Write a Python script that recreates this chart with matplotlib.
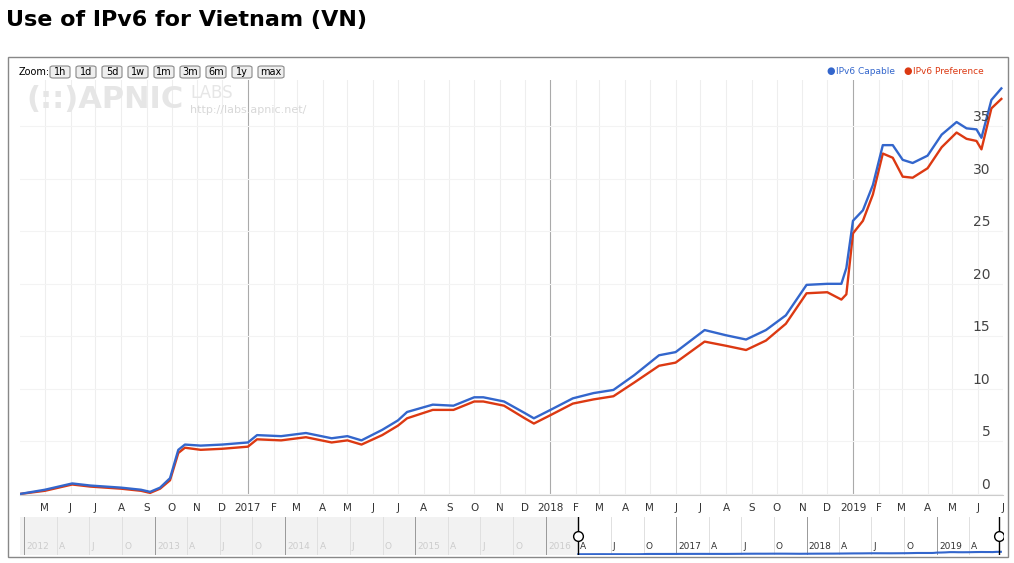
import matplotlib.pyplot as plt
import matplotlib.dates as mdates
import numpy as np
import pandas as pd
from matplotlib.patches import Rectangle, FancyBboxPatch

dates = pd.to_datetime([
    "2016-04-01", "2016-05-01", "2016-06-03", "2016-06-25", "2016-08-01", "2016-08-25",
    "2016-09-05", "2016-09-17", "2016-09-29", "2016-10-09", "2016-10-17", "2016-11-05",
    "2016-12-01", "2017-01-01", "2017-01-12", "2017-02-10", "2017-03-12", "2017-04-12",
    "2017-05-01", "2017-05-18", "2017-06-12", "2017-07-01", "2017-07-12", "2017-08-12",
    "2017-09-06", "2017-10-01", "2017-10-12", "2017-11-06", "2017-12-01", "2017-12-12",
    "2018-01-01", "2018-01-28", "2018-02-22", "2018-03-18", "2018-04-12", "2018-05-12",
    "2018-06-01", "2018-07-06", "2018-08-01", "2018-08-25", "2018-09-18", "2018-10-12",
    "2018-11-06", "2018-12-01", "2018-12-18", "2018-12-24", "2019-01-01", "2019-01-13",
    "2019-01-25", "2019-02-06", "2019-02-18", "2019-03-02", "2019-03-14", "2019-04-01",
    "2019-04-18", "2019-05-06", "2019-05-18", "2019-05-30", "2019-06-05", "2019-06-17",
    "2019-06-29"])
capable = [0.0, 0.4, 1.0, 0.8, 0.6, 0.4, 0.2, 0.6, 1.5, 4.2, 4.7, 4.6,
           4.7, 4.9, 5.6, 5.5, 5.8, 5.3, 5.5, 5.1, 6.1, 7.0, 7.8, 8.5,
           8.4, 9.2, 9.2, 8.8, 7.7, 7.2, 8.0, 9.1, 9.6, 9.9, 11.3, 13.2,
           13.5, 15.6, 15.1, 14.7, 15.6, 17.0, 19.9, 20.0, 20.0, 21.5, 26.0, 27.0,
           29.4, 33.2, 33.2, 31.8, 31.5, 32.2, 34.2, 35.4, 34.8, 34.7, 33.9, 37.5,
           38.6]
preference = [0.0, 0.3, 0.9, 0.7, 0.5, 0.3, 0.1, 0.5, 1.3, 3.9, 4.4, 4.2,
              4.3, 4.5, 5.2, 5.1, 5.4, 4.9, 5.1, 4.7, 5.6, 6.5, 7.2, 8.0,
              8.0, 8.8, 8.8, 8.4, 7.2, 6.7, 7.5, 8.6, 9.0, 9.3, 10.6, 12.2,
              12.5, 14.5, 14.1, 13.7, 14.6, 16.2, 19.1, 19.2, 18.5, 19.0, 24.8, 26.0,
              28.5, 32.4, 32.0, 30.2, 30.1, 31.0, 33.0, 34.4, 33.8, 33.6, 32.8, 36.7,
              37.6]
yticks = [0, 5, 10, 15, 20, 25, 30, 35]
zoom_buttons = ["1h", "1d", "5d", "1w", "1m", "3m", "6m", "1y", "max"]
BLUE = "#3366cc"
RED = "#dc3912"

fig = plt.figure(figsize=(10.14, 5.63), dpi=100)
W, H = 1014, 563

def fx(px): return px / W
def fy(py): return 1 - py / H

fig.text(fx(6), fy(20), "Use of IPv6 for Vietnam (VN)", fontsize=16, fontweight="bold",
         va="center", ha="left")
fig.patches.append(Rectangle((fx(8), fy(557)), fx(1000), (557 - 57) / H, transform=fig.transFigure,
                             fill=False, edgecolor="#888888", lw=1))

# main chart
ax = fig.add_axes([fx(20), fy(495), fx(983), (495 - 80) / H])
ax.plot(dates, preference, color=RED, lw=1.7)
ax.plot(dates, capable, color=BLUE, lw=1.7)
ax.set_xlim(pd.Timestamp("2016-04-01"), pd.Timestamp("2019-07-01"))
ax.set_ylim(-0.1, 39.4)
months = pd.date_range("2016-05-01", "2019-07-01", freq="MS")
for m in months:
    ax.axvline(m, color="#aaaaaa" if m.month == 1 else "#eeeeee", lw=0.8, zorder=0)
for t in yticks:
    ax.axhline(t, color="#f3f3f3", lw=0.8, zorder=0)
    ax.text(0.987, t + 0.2, str(t), transform=ax.get_yaxis_transform(), ha="right",
            va="bottom", fontsize=10, color="#444444")
ax.set_xticks(months)
ax.set_xticklabels([str(m.year) if m.month == 1 else m.strftime("%B")[0] for m in months],
                   fontsize=7.5, color="#333333")
ax.tick_params(axis="x", length=0, pad=6)
ax.set_yticks([])
for s in ["top", "left", "right"]:
    ax.spines[s].set_visible(False)
ax.spines["bottom"].set_color("#cccccc")

# watermark
fig.text(fx(26), fy(100), "(::)APNIC", fontsize=22, fontweight="bold", color="#e6e6e6", va="center")
fig.text(fx(190), fy(93), "LABS", fontsize=12, color="#e6e6e6", va="center")
fig.text(fx(190), fy(110), "http://labs.apnic.net/", fontsize=8, color="#d8d8d8", va="center")

# zoom buttons
fig.text(fx(19), fy(72), "Zoom:", fontsize=7, va="center")
bx = 50
for b in zoom_buttons:
    w = 8 + 6 * len(b)
    fig.patches.append(FancyBboxPatch((fx(bx), fy(78)), fx(w), 12 / H, transform=fig.transFigure,
                                      boxstyle="round,pad=0,rounding_size=0.003",
                                      facecolor="#eeeeee", edgecolor="#888888", lw=0.8))
    fig.text(fx(bx + w / 2), fy(72), b, fontsize=7, ha="center", va="center")
    bx += w + 6

# legend
fig.text(fx(826), fy(71), "●", color=BLUE, fontsize=7, va="center")
fig.text(fx(836), fy(71), "IPv6 Capable", color=BLUE, fontsize=6.5, va="center")
fig.text(fx(903), fy(71), "●", color=RED, fontsize=7, va="center")
fig.text(fx(913), fy(71), "IPv6 Preference", color=RED, fontsize=6.5, va="center")

# navigator
nav = fig.add_axes([fx(20), fy(555), fx(983), (555 - 517) / H])
nav.set_xlim(pd.Timestamp("2011-12-20"), pd.Timestamp("2019-07-05"))
nav.set_ylim(0, 1)
nav.axvspan(pd.Timestamp("2011-12-20"), pd.Timestamp("2016-04-01"), color="#f2f2f2", zorder=0)
nav.plot(dates, np.array(capable) / 600 + 0.02, color=BLUE, lw=1.5)
nmonths = pd.date_range("2012-01-01", "2019-06-01", freq="QS")
for m in nmonths:
    nav.axvline(m, color="#999999" if m.month == 1 else "#e0e0e0", lw=0.7, zorder=0)
    lbl = str(m.year) if m.month == 1 else m.strftime("%B")[0]
    col = "#cccccc" if m < pd.Timestamp("2016-04-01") else "#333333"
    nav.text(m + pd.Timedelta(days=6), 0.1, lbl, fontsize=6.5, color=col, va="bottom")
for h in ["2016-04-01", "2019-06-25"]:
    nav.axvline(pd.Timestamp(h), color="black", lw=1)
    nav.plot(pd.Timestamp(h), 0.5, marker="o", ms=7, mfc="white", mec="black")
nav.set_xticks([])
nav.set_yticks([])
for s in nav.spines.values():
    s.set_visible(False)

fig.savefig("out.png", dpi=100)
